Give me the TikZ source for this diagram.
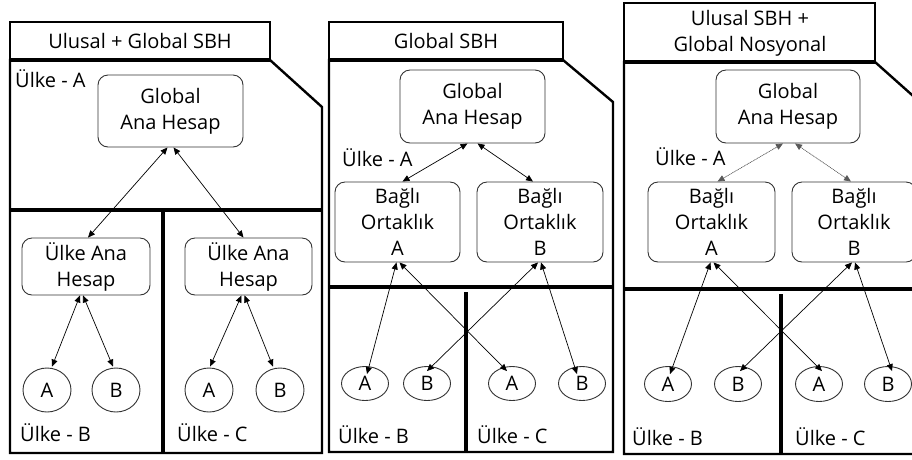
\documentclass[tikz,border=0pt]{standalone}
\usepackage{fontspec}
\setmainfont{Open Sans}
\usetikzlibrary{arrows.meta,shapes.geometric}
\newcommand\dfont{\fontsize{20}{26}\selectfont}
\begin{document}
\begin{tikzpicture}[x=1pt,y=-1pt,
  panel/.style={line width=2.4pt, line join=miter},
  titleline/.style={line width=4pt},
  divider/.style={line width=4.5pt},
  rbox/.style={draw=black!80, line width=0.9pt, rounded corners=10pt, align=center, font=\dfont, inner sep=0pt},
  oval/.style={ellipse, draw=black!80, line width=0.9pt, font=\dfont, inner sep=0pt},
  lbl/.style={anchor=west, font=\dfont, inner sep=0pt},
  ttl/.style={font=\dfont, align=center, inner sep=0pt},
  link/.style={{Triangle[length=7pt,width=6pt]}-{Triangle[length=7pt,width=6pt]}, line width=0.7pt},
  dlink/.style={link, densely dotted, draw=black!65, fill=black}
]
\clip (0,0) rectangle (912,459);
\fill[white] (0,0) rectangle (912,459);

% ---------- Panel 1 ----------
\draw[panel] (10,22) rectangle (270,60);
\draw[panel] (10,60) -- (270,60) -- (322,107) -- (322,453) -- (10,453) -- cycle;
\draw[titleline] (10,60) -- (270,60);
\draw[divider] (10,210) -- (322,210);
\draw[divider] (163,210) -- (163,453);
\node[ttl] (t1) at (140,41) {Ulusal + Global SBH};
\node[lbl] (la1) at (15,79) {Ülke - A};
\node[lbl] (lb1) at (20,433) {Ülke - B};
\node[lbl] (lc1) at (177,433) {Ülke - C};
\node[rbox, minimum width=145pt, minimum height=72pt] (g1) at (170.5,111) {Global\\Ana Hesap};
\node[rbox, minimum width=128pt, minimum height=57pt] (u1) at (86,266.5) {Ülke Ana\\Hesap};
\node[rbox, minimum width=127pt, minimum height=57pt] (u2) at (248.5,266.5) {Ülke Ana\\Hesap};
\node[oval, minimum width=48pt, minimum height=44pt] (a1) at (47,390) {A};
\node[oval, minimum width=48pt, minimum height=44pt] (b1) at (116,390) {B};
\node[oval, minimum width=48pt, minimum height=44pt] (a2) at (209,390) {A};
\node[oval, minimum width=48pt, minimum height=44pt] (b2) at (280,390) {B};
\draw[link] ([xshift=-3pt]g1.south) -- ([xshift=2pt]u1.north);
\draw[link] ([xshift=3pt]g1.south) -- ([xshift=-5pt]u2.north);
\draw[link] ([xshift=-6pt]u1.south) -- ([xshift=5pt,yshift=1pt]a1.north);
\draw[link] ([xshift=-3pt]u1.south) -- ([xshift=-3pt,yshift=1pt]b1.north);
\draw[link] ([xshift=-7pt]u2.south) -- ([xshift=1pt,yshift=1pt]a2.north);
\draw[link] ([xshift=-4pt]u2.south) -- ([xshift=-7pt,yshift=1pt]b2.north);

% ---------- Panel 2 ----------
\draw[panel] (329,22) rectangle (563,60);
\draw[panel] (329,60) -- (563,60) -- (613,102) -- (613,452) -- (329,452) -- cycle;
\draw[titleline] (329,60) -- (563,60);
\draw[divider] (329,287) -- (613,287);
\draw[divider] (466,292) -- (466,452);
\node[ttl] (t2) at (446,41) {Global SBH};
\node[lbl] (la2) at (342,158) {Ülke - A};
\node[lbl] (lb2) at (338,435) {Ülke - B};
\node[lbl] (lc2) at (477,435) {Ülke - C};
\node[rbox, minimum width=145pt, minimum height=73pt] (g2) at (472.5,106.5) {Global\\Ana Hesap};
\node[rbox, minimum width=125pt, minimum height=80pt] (pa) at (397.5,222) {Bağlı\\Ortaklık\\A};
\node[rbox, minimum width=126pt, minimum height=80pt] (pb) at (540,222) {Bağlı\\Ortaklık\\B};
\node[oval, minimum width=47pt, minimum height=34pt] (oa1) at (365,383.5) {A};
\node[oval, minimum width=47pt, minimum height=34pt] (ob1) at (427,383.5) {B};
\node[oval, minimum width=47pt, minimum height=34pt] (oa2) at (512,383.5) {A};
\node[oval, minimum width=47pt, minimum height=34pt] (ob2) at (582,383.5) {B};
\draw[link] ([xshift=-5pt]g2.south) -- ([xshift=5pt]pa.north);
\draw[link] ([xshift=5pt]g2.south) -- ([xshift=-7pt]pb.north);
\draw[link] ([xshift=-1pt]pa.south) -- ([xshift=2pt,yshift=-8pt]oa1.north);
\draw[link] ([xshift=2pt]pa.south) -- ([xshift=-5pt,yshift=-5pt]oa2.north);
\draw[link] ([xshift=-2pt]pb.south) -- ([yshift=-5pt]ob1.north);
\draw[link] ([xshift=1pt]pb.south) -- ([xshift=-5pt,yshift=-8pt]ob2.north);

% ---------- Panel 3 ----------
\draw[panel] (624,3) rectangle (875,62);
\draw[panel] (624,62) -- (875,62) -- (930,111) -- (930,454) -- (624,454) -- cycle;
\draw[titleline] (624,62) -- (875,62);
\draw[divider] (624,289) -- (912,289);
\draw[divider] (781,294) -- (781,454);
\node[ttl] (t3) at (750,33) {Ulusal SBH +\\Global Nosyonal};
\node[lbl] (la3) at (655,157) {Ülke - A};
\node[lbl] (lb3) at (632,437) {Ülke - B};
\node[lbl] (lc3) at (795,437) {Ülke - C};
\node[rbox, minimum width=144pt, minimum height=73pt] (g3) at (788,106.5) {Global\\Ana Hesap};
\node[rbox, minimum width=127pt, minimum height=80pt] (qa) at (711.5,222) {Bağlı\\Ortaklık\\A};
\node[rbox, minimum width=124pt, minimum height=80pt] (qb) at (854,222) {Bağlı\\Ortaklık\\B};
\node[oval, minimum width=47pt, minimum height=35pt] (oc1) at (668,384) {A};
\node[oval, minimum width=47pt, minimum height=35pt] (od1) at (738,384) {B};
\node[oval, minimum width=47pt, minimum height=35pt] (oc2) at (819,384) {A};
\node[oval, minimum width=47pt, minimum height=35pt] (od2) at (888,384) {B};
\draw[dlink] ([xshift=-5pt]g3.south) -- ([xshift=6pt]qa.north);
\draw[dlink] ([xshift=7pt]g3.south) -- ([xshift=-3pt]qb.north);
\draw[link] ([xshift=-1pt]qa.south) -- ([xshift=2pt,yshift=-8pt]oc1.north);
\draw[link] ([xshift=2pt]qa.south) -- ([xshift=3pt,yshift=-5pt]oc2.north);
\draw[link] ([xshift=-2pt]qb.south) -- ([xshift=2pt,yshift=-5pt]od1.north);
\draw[link] ([xshift=1pt]qb.south) -- ([xshift=4pt,yshift=-5pt]od2.north);
\end{tikzpicture}
\end{document}
